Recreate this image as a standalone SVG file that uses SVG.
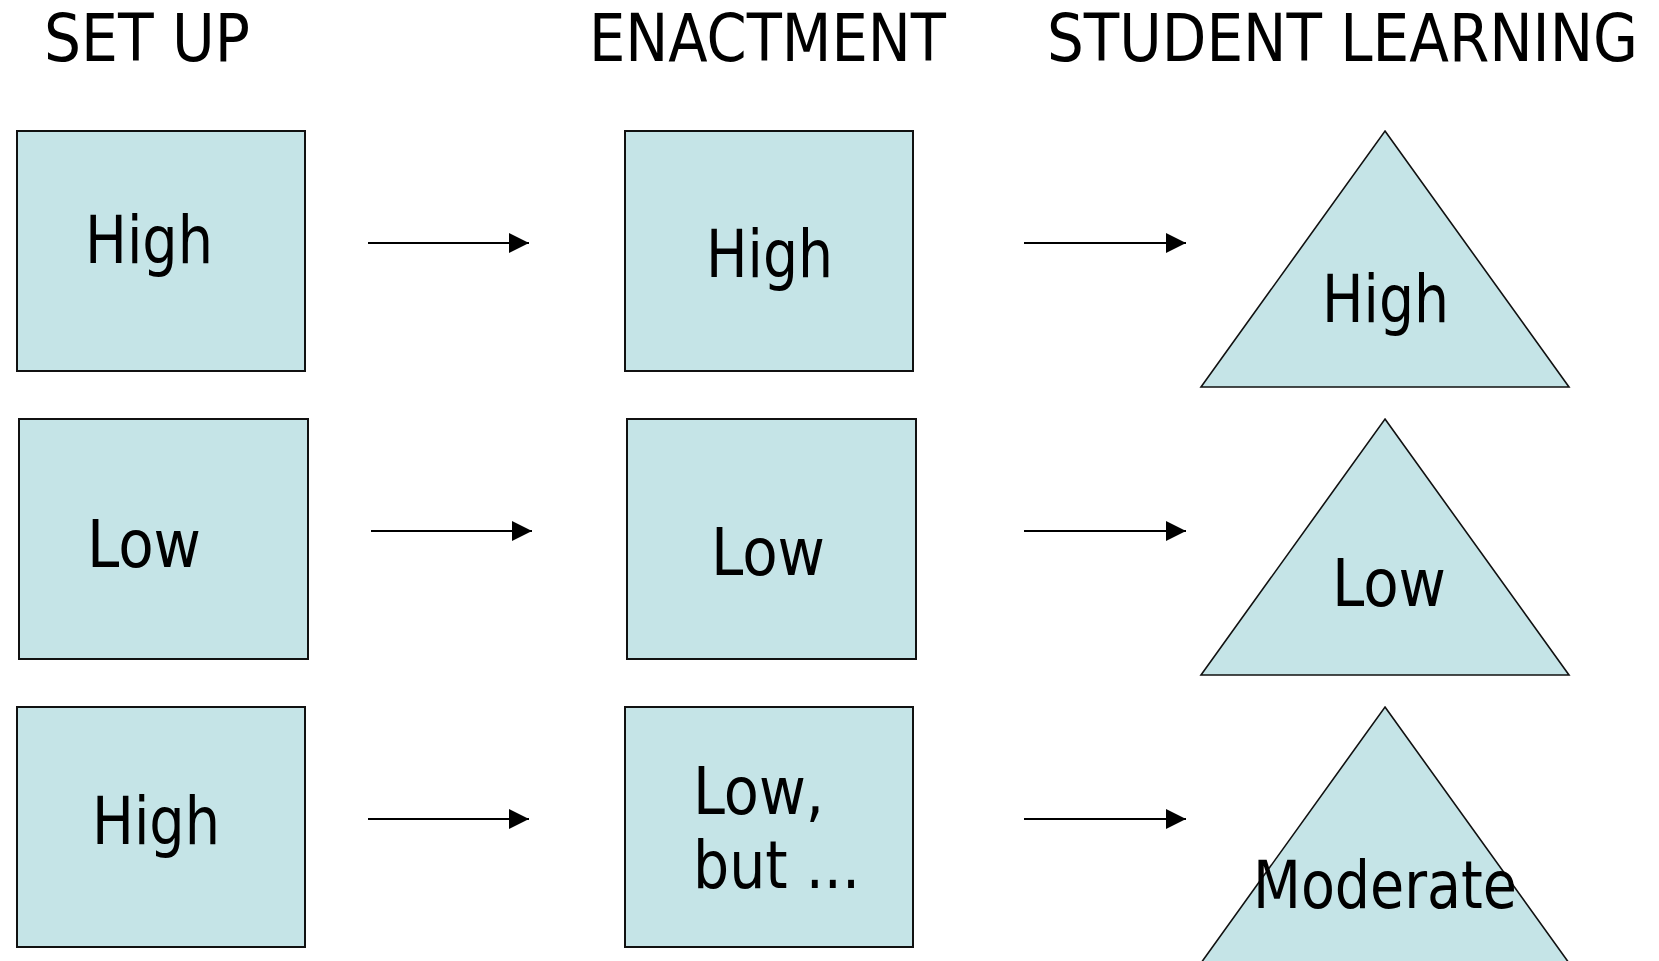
<svg xmlns="http://www.w3.org/2000/svg" width="1659" height="961" viewBox="0 0 1659 961">
<style>
.t{font-family:"DejaVu Sans Condensed","DejaVu Sans",Tahoma,sans-serif;fill:#000;}
.h{font-size:65px;}
.n{font-size:65px;}
.box{fill:#C5E4E7;stroke:#111;stroke-width:2;}
.tri{fill:#C5E4E7;stroke:#111;stroke-width:1.6;stroke-linejoin:miter;}
.arr{stroke:#000;stroke-width:2;fill:none;marker-end:url(#ah);}
</style>
<defs>
<marker id="ah" markerUnits="userSpaceOnUse" markerWidth="20" markerHeight="20" refX="20" refY="10" orient="auto">
<path d="M0,0 L20,10 L0,20 z" fill="#000"/>
</marker>
</defs>
<rect width="1659" height="961" fill="#fff"/>
<g id="headers">
<text class="t h" x="44" y="61" textLength="206" lengthAdjust="spacingAndGlyphs">SET UP</text>
<text class="t h" x="589" y="61" textLength="357" lengthAdjust="spacingAndGlyphs">ENACTMENT</text>
<text class="t h" x="1047" y="61" textLength="591" lengthAdjust="spacingAndGlyphs">STUDENT LEARNING</text>
</g>
<g id="connectors">
<line class="arr" x1="368" y1="243" x2="529" y2="243"/>
<line class="arr" x1="1024" y1="243" x2="1186" y2="243"/>
<line class="arr" x1="371" y1="531" x2="532" y2="531"/>
<line class="arr" x1="1024" y1="531" x2="1186" y2="531"/>
<line class="arr" x1="368" y1="819" x2="529" y2="819"/>
<line class="arr" x1="1024" y1="819" x2="1186" y2="819"/>
</g>
<g id="setup-high-1">
<rect class="box" x="17" y="131" width="288" height="240"/>
<text class="t n" x="85" y="263" textLength="128" lengthAdjust="spacingAndGlyphs">High</text>
</g>
<g id="enact-high-1">
<rect class="box" x="625" y="131" width="288" height="240"/>
<text class="t n" x="706" y="277" textLength="127" lengthAdjust="spacingAndGlyphs">High</text>
</g>
<g id="learn-high-1">
<polygon class="tri" points="1385,131 1569,387 1201,387"/>
<text class="t n" x="1322" y="322" textLength="127" lengthAdjust="spacingAndGlyphs">High</text>
</g>
<g id="setup-low-2">
<rect class="box" x="19" y="419" width="289" height="240"/>
<text class="t n" x="87" y="567" textLength="114" lengthAdjust="spacingAndGlyphs">Low</text>
</g>
<g id="enact-low-2">
<rect class="box" x="627" y="419" width="289" height="240"/>
<text class="t n" x="711" y="575" textLength="114" lengthAdjust="spacingAndGlyphs">Low</text>
</g>
<g id="learn-low-2">
<polygon class="tri" points="1385,419 1569,675 1201,675"/>
<text class="t n" x="1332" y="606" textLength="114" lengthAdjust="spacingAndGlyphs">Low</text>
</g>
<g id="setup-high-3">
<rect class="box" x="17" y="707" width="288" height="240"/>
<text class="t n" x="92" y="844" textLength="128" lengthAdjust="spacingAndGlyphs">High</text>
</g>
<g id="enact-lowbut-3">
<rect class="box" x="625" y="707" width="288" height="240"/>
<text class="t n" x="693" y="814" textLength="131" lengthAdjust="spacingAndGlyphs">Low,</text>
<text class="t n" x="693" y="888" textLength="167" lengthAdjust="spacingAndGlyphs">but ...</text>
</g>
<g id="learn-moderate-3">
<polygon class="tri" points="1385,707 1569,963 1201,963"/>
<text class="t n" x="1253" y="908" textLength="264" lengthAdjust="spacingAndGlyphs">Moderate</text>
</g>
</svg>
